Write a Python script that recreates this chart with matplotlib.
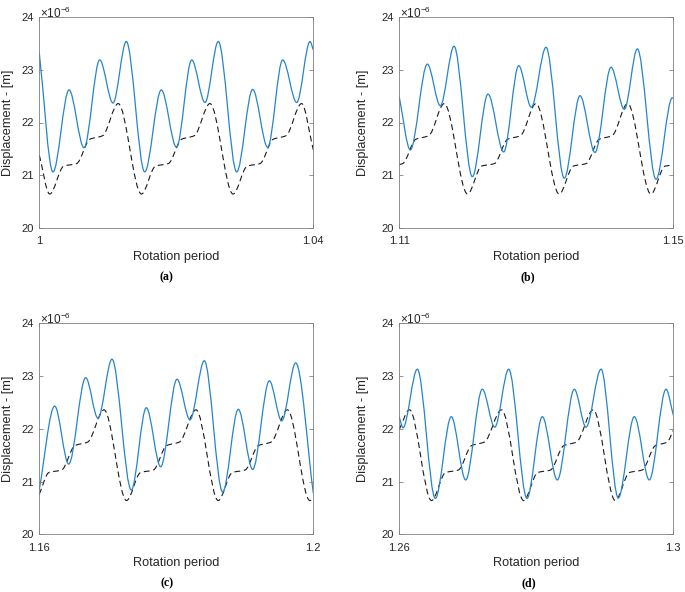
import numpy as np
import matplotlib
matplotlib.use("Agg")
import matplotlib.pyplot as plt
from matplotlib.path import Path
from matplotlib.patches import PathPatch

plt.rcParams['font.family'] = ['Liberation Sans', 'DejaVu Sans']
plt.rcParams['mathtext.fontset'] = 'custom'
plt.rcParams['mathtext.rm'] = 'Liberation Sans'
plt.rcParams['mathtext.it'] = 'Liberation Sans:italic'
plt.rcParams['lines.scale_dashes'] = False

# ---------------- data (displacement in 1e-6 m, key points) ----------------
xa_blue = [1.00000, 1.00200, 1.00434, 1.00653, 1.00882, 1.01076, 1.01270, 1.01539, 1.01781, 1.02003,
           1.02225, 1.02419, 1.02613, 1.02882, 1.03115, 1.03334, 1.03553, 1.03758, 1.03952, 1.04000]
ya_blue = [23.32, 21.06, 22.62, 21.52, 23.19, 22.37, 23.54, 21.06, 22.62, 21.53,
           23.19, 22.38, 23.54, 21.06, 22.63, 21.53, 23.19, 22.38, 23.54, 23.38]
xa_dash = [1.00000, 1.00152, 1.00356, 1.00546, 1.00736, 1.00926, 1.01152, 1.01491, 1.01695, 1.01885,
           1.02075, 1.02264, 1.02491, 1.02829, 1.03034, 1.03223, 1.03413, 1.03603, 1.03829, 1.04000]
ya_dash = [21.38, 20.64, 21.17, 21.22, 21.68, 21.75, 22.36, 20.64, 21.17, 21.22,
           21.68, 21.75, 22.36, 20.64, 21.17, 21.22, 21.68, 21.75, 22.36, 21.48]

xb_blue = [1.11000, 1.11161, 1.11409, 1.11599, 1.11799, 1.12066, 1.12295, 1.12524, 1.12743, 1.12927,
           1.13142, 1.13409, 1.13638, 1.13857, 1.14091, 1.14285, 1.14475, 1.14748, 1.14986, 1.15000]
yb_blue = [22.48, 21.48, 23.11, 22.32, 23.45, 20.97, 22.54, 21.44, 23.08, 22.29,
           23.43, 20.94, 22.51, 21.43, 23.05, 22.25, 23.40, 20.92, 22.47, 22.46]
xb_dash = [1.11000, 1.11051, 1.11241, 1.11431, 1.11657, 1.11996, 1.12200, 1.12390, 1.12580, 1.12769,
           1.12996, 1.13334, 1.13539, 1.13729, 1.13918, 1.14108, 1.14334, 1.14673, 1.14878, 1.15000]
yb_dash = [21.20, 21.22, 21.68, 21.75, 22.36, 20.64, 21.17, 21.22, 21.68, 21.75,
           22.36, 20.64, 21.17, 21.22, 21.68, 21.75, 22.36, 20.64, 21.17, 21.19]

xc_blue = [1.16000, 1.16225, 1.16429, 1.16677, 1.16857, 1.17061, 1.17343, 1.17562, 1.17772, 1.18010,
           1.18200, 1.18409, 1.18677, 1.18905, 1.19115, 1.19358, 1.19539, 1.19743, 1.20000]
yc_blue = [20.85, 22.43, 21.33, 22.97, 22.20, 23.32, 20.84, 22.40, 21.28, 22.94,
           22.17, 23.29, 20.80, 22.37, 21.23, 22.91, 22.15, 23.25, 20.78]
xc_dash = [1.16000, 1.16139, 1.16328, 1.16518, 1.16708, 1.16945, 1.17273, 1.17477, 1.17667, 1.17857,
           1.18047, 1.18288, 1.18612, 1.18816, 1.19006, 1.19196, 1.19386, 1.19623, 1.19950, 1.20000]
yc_dash = [20.76, 21.17, 21.22, 21.68, 21.75, 22.36, 20.64, 21.17, 21.22, 21.68,
           21.75, 22.36, 20.64, 21.17, 21.22, 21.68, 21.75, 22.36, 20.64, 20.69]

xd_blue = [1.26000, 1.26054, 1.26263, 1.26526, 1.26759, 1.26969, 1.27212, 1.27393, 1.27597, 1.27864,
           1.28088, 1.28307, 1.28555, 1.28726, 1.28945, 1.29197, 1.29431, 1.29650, 1.29894, 1.30000]
yd_blue = [22.22, 22.02, 23.13, 20.68, 22.23, 21.03, 22.75, 22.03, 23.13, 20.68,
           22.23, 21.03, 22.75, 22.03, 23.13, 20.69, 22.23, 21.03, 22.75, 22.26]
xd_dash = [1.26000, 1.26149, 1.26470, 1.26674, 1.26864, 1.27054, 1.27244, 1.27493, 1.27815, 1.28019,
           1.28209, 1.28399, 1.28588, 1.28832, 1.29153, 1.29358, 1.29548, 1.29737, 1.29913, 1.30000]
yd_dash = [21.99, 22.36, 20.64, 21.17, 21.22, 21.68, 21.75, 22.36, 20.64, 21.17,
           21.22, 21.68, 21.75, 22.36, 20.64, 21.17, 21.22, 21.68, 21.75, 21.97]

x_limits = [(1.00, 1.04), (1.11, 1.15), (1.16, 1.20), (1.26, 1.30)]
x_tick_labels = [['1', '1.04'], ['1.11', '1.15'], ['1.16', '1.2'], ['1.26', '1.3']]
y_ticks = [20, 21, 22, 23, 24]
panel_labels = ['(a)', '(b)', '(c)', '(d)']
x_label = 'Rotation period'
y_label = 'Displacement - [m]'

blue_series = [(xa_blue, ya_blue), (xb_blue, yb_blue), (xc_blue, yc_blue), (xd_blue, yd_blue)]
dash_series = [(xa_dash, ya_dash), (xb_dash, yb_dash), (xc_dash, yc_dash), (xd_dash, yd_dash)]


def smooth_path(x, y):
    """Shape-preserving cubic (Bezier) path through the given points."""
    x = np.asarray(x, float)
    y = np.asarray(y, float)
    h = np.diff(x)
    d = np.diff(y) / h
    m = np.zeros_like(y)
    m[0] = d[0]
    m[-1] = d[-1]
    for i in range(1, len(y) - 1):
        if d[i - 1] * d[i] <= 0:
            m[i] = 0.0
        else:
            w1 = 2 * h[i] + h[i - 1]
            w2 = h[i] + 2 * h[i - 1]
            m[i] = (w1 + w2) / (w1 / d[i - 1] + w2 / d[i])
    verts = [(x[0], y[0])]
    codes = [Path.MOVETO]
    for i in range(len(h)):
        verts += [(x[i] + h[i] / 3, y[i] + m[i] * h[i] / 3),
                  (x[i + 1] - h[i] / 3, y[i + 1] - m[i + 1] * h[i] / 3),
                  (x[i + 1], y[i + 1])]
        codes += [Path.CURVE4] * 3
    return Path(verts, codes)


W, H = 685, 592
fig = plt.figure(figsize=(W / 100, H / 100), dpi=100)

# axes boxes in pixels: left, top, right, bottom
boxes = [(39.3, 17.3, 313.3, 227.7), (399.3, 17.3, 673.3, 227.7),
         (39.3, 323.3, 313.3, 534.3), (399.3, 323.3, 673.3, 534.3)]
ylabel_x = [-0.113, -0.131, -0.113, -0.131]
label_pos = [(166.7, 277.3), (528.3, 277.3), (166.7, 583.3), (528.8, 583.3)]

text_col = '#262626'
axis_col = '#808080'

for k in range(4):
    l, t, r, b = boxes[k]
    ax = fig.add_axes([l / W, 1 - b / H, (r - l) / W, (b - t) / H])
    (xb, yb) = blue_series[k]
    (xd, yd) = dash_series[k]
    ax.add_patch(PathPatch(smooth_path(xd, yd), fill=False, edgecolor='#1a1a1a',
                           linewidth=0.8, linestyle=(0, (4.2, 2.6))))
    ax.add_patch(PathPatch(smooth_path(xb, yb), fill=False, edgecolor='#2585cb',
                           linewidth=0.9, joinstyle='round', capstyle='round'))
    ax.set_xlim(*x_limits[k])
    ax.set_ylim(20, 24)
    ax.set_xticks(list(x_limits[k]))
    ax.set_xticklabels(x_tick_labels[k])
    ax.set_yticks(y_ticks)
    ax.set_yticklabels([str(v) for v in y_ticks])
    ax.tick_params(direction='in', length=3, width=0.6, colors=axis_col,
                   labelcolor=text_col, labelsize=8, top=True, right=True)
    ax.tick_params(axis='x', pad=6)
    ax.tick_params(axis='y', pad=4)
    for s in ax.spines.values():
        s.set_color(axis_col)
        s.set_linewidth(0.6)
    ax.set_xlabel(x_label, fontsize=9.2, color=text_col)
    ax.xaxis.set_label_coords(0.5, -0.138)
    ax.xaxis.label.set_va('center')
    ax.set_ylabel(y_label, fontsize=9.2, color=text_col)
    ax.yaxis.set_label_coords(ylabel_x[k], 0.5)
    ax.yaxis.label.set_va('center')
    ax.text(0.004, 0.997, r'$\times10^{-6}$', transform=ax.transAxes, ha='left',
            va='baseline', fontsize=8.5, color=text_col)
    px, py = label_pos[k]
    fig.text(px / W, 1 - py / H, panel_labels[k], ha='center', va='center',
             fontsize=8.5, fontweight='bold', family=['Liberation Serif', 'DejaVu Serif'],
             color='black')

fig.savefig('out.png', dpi=100)
